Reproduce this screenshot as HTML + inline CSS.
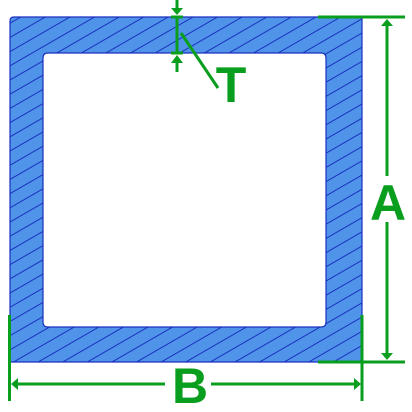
<!DOCTYPE html>
<html><head><meta charset="utf-8"><style>
html,body{margin:0;padding:0;background:#fff;width:412px;height:412px;overflow:hidden}
text{font-family:"Liberation Sans",sans-serif;font-weight:bold;fill:#0a9e1e}
</style></head><body>
<svg width="412" height="412" viewBox="0 0 412 412">
<defs>
<pattern id="hatch" patternUnits="userSpaceOnUse" width="24" height="12.3" patternTransform="rotate(-30)">
<rect width="24" height="12.3" fill="#4f94e8"/>
<line x1="0" y1="0.5" x2="24" y2="0.5" stroke="#1a2fbf" stroke-width="1"/>
</pattern>
<filter id="sh" x="-50%" y="-50%" width="200%" height="200%"><feGaussianBlur stdDeviation="2"/></filter>
</defs>
<path fill="url(#hatch)" stroke="#1a2fbf" stroke-width="1.2" fill-rule="evenodd"
 d="M14,17 H362 V362 H10 V21 Q10,17 14,17 Z M48,53 H321 Q326,53 326,58 V322 Q326,327 321,327 H48 Q43,327 43,322 V58 Q43,53 48,53 Z"/>
<g stroke="#0a9e1e" stroke-width="3" fill="#0a9e1e">
<line x1="318" y1="17" x2="405" y2="17"/>
<line x1="318" y1="362" x2="405" y2="362"/>
<line x1="387" y1="24" x2="387" y2="176"/>
<line x1="387" y1="222" x2="387" y2="355"/>
<polygon stroke="none" points="387,19 381,26 393,26"/>
<polygon stroke="none" points="387,360 381,353 393,353"/>
</g>
<text x="388" y="220" font-size="50" text-anchor="middle">A</text>
<g stroke="#0a9e1e" stroke-width="3" fill="#0a9e1e">
<line x1="9.5" y1="315" x2="9.5" y2="401"/>
<line x1="362" y1="315" x2="362" y2="401"/>
<line x1="16" y1="384" x2="165" y2="384"/>
<line x1="211" y1="384" x2="356" y2="384"/>
<polygon stroke="none" points="11,384 18,378 18,390"/>
<polygon stroke="none" points="361,384 354,378 354,390"/>
</g>
<text x="190" y="403" font-size="50" text-anchor="middle">B</text>
<g>
<g filter="url(#sh)" opacity="0.5" stroke="#886" stroke-width="3"><line x1="181" y1="2" x2="181" y2="75"/></g>
<g stroke="#0a9e1e" stroke-width="3" fill="#0a9e1e">
<line x1="177" y1="0" x2="177" y2="10"/>
<line x1="177" y1="17" x2="177" y2="53"/>
<line x1="171" y1="17" x2="183" y2="17"/>
<line x1="171" y1="53" x2="183" y2="53"/>
<line x1="177" y1="60" x2="177" y2="72"/>
<polygon stroke="none" points="177,15 171,8 183,8"/>
<polygon stroke="none" points="177,55 171,63 183,63"/>
<line x1="181" y1="33" x2="218" y2="88"/>
</g>
</g>
<text x="231" y="102" font-size="50" text-anchor="middle">T</text>
</svg>
</body></html>
